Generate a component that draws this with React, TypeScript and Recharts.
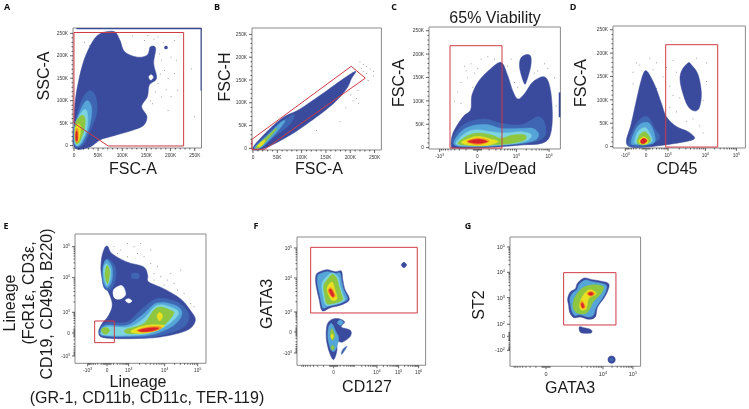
import { ReactNode } from "react"
import { ReferenceArea, Scatter, ScatterChart, XAxis, YAxis } from "recharts"

type Pt = [number, number]
type Band = [number, number, number, number]

const colors = {
  navy: "#3a4a9c",
  blue: "#3e66b3",
  sky: "#56a5d9",
  cyan: "#7dd3e0",
  green: "#8ec63f",
  yellow: "#e8e020",
  orange: "#f29220",
  red: "#d9232a",
  white: "#ffffff",
  gate: "#cf3a44",
}

// shared FSC/SSC scale, in thousands
const fscTicks = [0, 50, 100, 150, 200, 250]
const fscLabels = ["0", "50K", "100K", "150K", "200K", "250K"]
const fscMinor = [10, 20, 30, 40, 60, 70, 80, 90, 110, 120, 130, 140, 160, 170, 180, 190, 210, 220, 230, 240]
const zeroMinor = [-1.2, -.9, -.6, -.3, .3, .6, .9, 1.2]

// panel A
const aOuter: Pt[] = [[1, -4], [0, 50], [3, 102], [10, 146], [21, 191], [38, 231], [55, 250], [83, 254], [95, 235], [105, 209], [131, 197], [152, 202], [158, 220], [169, 217], [165, 183], [171, 150], [156, 135], [152, 109], [140, 87], [151, 65], [145, 46], [124, 35], [83, 22], [55, 13], [31, -4]]
const aHole: Pt[] = [[155, 153], [160, 158], [164, 152], [159, 146]]
const aBands: Band[] = [[5, 264, 259, 262], [262, 264, 122, 262]]
const aSpot: Pt[] = [[188, 216], [188, 221], [193, 221], [193, 216]]
const aBlue: Pt[] = [[1, 0], [1, 42], [14, 96], [31, 122], [45, 109], [47, 72], [33, 31], [18, 0]]
const aSky: Pt[] = [[2, 3], [2, 42], [17, 87], [29, 100], [37, 79], [31, 39], [15, 3]]
const aCyan: Pt[] = [[2, 5], [3, 46], [17, 76], [27, 76], [27, 39], [13, 5]]
const aGreen: Pt[] = [[3, 8], [3, 48], [14, 66], [22, 63], [22, 39], [11, 7]]
const aYellow: Pt[] = [[3, 13], [3, 39], [9, 48], [14, 39], [10, 11]]
const aOrange: Pt[] = [[3, 10], [3, 31], [7, 39], [9, 27], [8, 9]]
const aRed: Pt[] = [[4, 12], [4, 28], [5.5, 32], [7, 28], [7, 12]]
const aGate: Pt[] = [[0, 252], [227, 252], [227, -1], [71, -1], [0, 50]]
const aSpecks: Pt[] = [[21, 231], [31, 224], [145, 235], [173, 243], [152, 246], [207, 235], [200, 198], [211, 191], [187, 168], [194, 150], [207, 161], [214, 124], [180, 109], [162, 94], [194, 79], [249, 65], [173, 139], [180, 191], [242, 172], [165, 238], [120, 245], [185, 230], [176, 205], [168, 120], [158, 100], [190, 125], [178, 160], [200, 110], [226, 160]]

// panel B
const bOuter: Pt[] = [[0, 1], [27, 35], [62, 68], [96, 86], [151, 126], [185, 152], [211, 169], [202, 152], [192, 130], [164, 97], [110, 53], [68, 24], [21, -1]]
const bBlue: Pt[] = [[3, 2], [27, 30], [62, 62], [85, 74], [75, 52], [40, 22], [15, 0]]
const bSky: Pt[] = [[3, 2], [31, 30], [58, 58], [65, 58], [45, 31], [17, 2]]
const bGreen: Pt[] = [[6, 3], [31, 28], [45, 42], [48, 42], [34, 24], [15, 3]]
const bYellow: Pt[] = [[9, 5], [21, 17], [25, 17], [17, 5]]
const bGate: Pt[] = [[-2, 20], [202, 180], [231, 154], [24, -2], [-2, -2]]
const bSpecks: Pt[] = [[219, 190], [226, 185], [233, 180], [240, 175], [226, 170], [233, 165], [247, 170], [212, 110], [216, 100], [205, 105], [190, 90], [178, 60], [130, 40], [247, 160], [236, 150], [222, 176], [215, 128], [200, 118]]

// panel C, x in biexponential display units
const cXTicks = [-11.3, 0, 11.7, 21.5]
const cXLabels = ["-10^3", "0", "10^3", "10^4"]
const cOuter: Pt[] = [[-7.8, 2], [-7.3, 31], [-4.3, 66], [-2, 81], [-1.6, 113], [.7, 145], [4.2, 170], [7.2, 182], [9, 156], [10.7, 120], [12.2, 104], [14.2, 116], [16.7, 141], [20.2, 151], [21.9, 124], [22.5, 66], [21.7, 24], [19.2, 9], [14.2, 6], [7.2, 2], [-.8, -1], [-6.3, -1]]
const cColumn: Pt[] = [[13, 191], [14.7, 199], [16, 195], [16, 174], [14.7, 141], [14, 138], [12.7, 170]]
const cBands: Band[] = [[24.4, 24.9, 65, 118]]
const cBlue: Pt[] = [[-7.3, 6], [-6.3, 34], [-2.8, 54], [2.2, 61], [7.2, 52], [13.2, 49], [18.2, 66], [20.2, 52], [20.2, 24], [16.2, 11], [7.2, 4], [-.8, 1]]
const cSky: Pt[] = [[-6.8, 6], [-5.3, 31], [-1.8, 46], [3.2, 49], [7.2, 41], [13.2, 41], [16.7, 41], [18.4, 27], [16.2, 13], [7.2, 5], [-.8, 2]]
const cCyan: Pt[] = [[-6.3, 7], [-4.3, 27], [-.8, 38], [4.2, 34], [8.2, 31], [13.2, 34], [16.2, 27], [14.2, 13], [7.2, 6], [-.8, 4]]
const cGreen: Pt[] = [[-5.8, 8], [-3.3, 24], [.2, 31], [4.2, 27], [7.2, 20], [10.7, 27], [14.2, 27], [14.2, 16], [10.2, 9], [5.2, 6], [-.8, 4]]
const cYellow: Pt[] = [[-4.8, 11], [-2.3, 20], [.7, 24], [4.2, 18], [6.2, 13], [3.2, 5], [-1.8, 5]]
const cOrange: Pt[] = [[-3.2, 13], [.2, 20], [3.6, 14], [.2, 6]]
const cRed: Pt[] = [[-2.8, 13], [.2, 18], [3, 13], [.2, 9]]
const cGate: Pt[] = [[-8.2, 218], [7.4, 218], [7.4, -1], [-8.2, -1]]
const cSpecks: Pt[] = [[-4, 175], [-2, 180], [-1, 160], [1, 190], [-5, 140], [-6, 120], [-3, 150], [3, 195], [5, 190], [-1.5, 130], [9, 175], [10, 190], [11, 140], [12, 130], [18, 165], [21, 170], [20, 180], [17, 160], [-7, 100], [-5, 95], [-3.5, 165], [0, 170], [23, 150], [23.5, 90]]

// panel D
const dXTicks = [-6.2, 0, 6.6, 17.8, 27.1]
const dXLabels = ["-10^3", "0", "10^3", "10^4", "10^5"]
const dOuter: Pt[] = [[-5.9, 11], [-4.4, 50], [-2.4, 114], [-.9, 154], [.3, 161], [2.6, 132], [4.6, 93], [6.1, 64], [9.1, 43], [12.6, 32], [14.6, 18], [12.1, 11], [6.1, 4], [.1, -1], [-4.4, -1]]
const dIsland: Pt[] = [[12.6, 179], [10.6, 161], [10.3, 136], [12.1, 93], [14.1, 77], [15.9, 82], [16.6, 114], [15.6, 154], [13.6, 175]]
const dBlue: Pt[] = [[-5.4, 7], [-3.4, 43], [-1.4, 61], [.6, 64], [2.6, 39], [4.1, 18], [.1, 1], [-4.4, 1]]
const dSky: Pt[] = [[-4.4, 11], [-2.9, 39], [-.9, 51], [1.1, 49], [2.6, 25], [2.1, 7], [-3.4, 4]]
const dCyan: Pt[] = [[-3.4, 11], [-2.4, 32], [-.4, 41], [.9, 32], [1.9, 14], [.6, 6], [-2.7, 6]]
const dGreen: Pt[] = [[-2.7, 11], [-1.9, 25], [-.4, 32], [.9, 23], [1.3, 11], [-.4, 4], [-2.1, 5]]
const dYellow: Pt[] = [[-2.1, 13], [-.7, 21], [.6, 14], [.3, 6], [-1.6, 6]]
const dRed: Pt[] = [[-1.6, 13], [-.7, 18], [.3, 13], [-.4, 7], [-1.4, 7]]
const dGate: Pt[] = [[5.9, 218], [21.5, 218], [21.5, -1], [5.9, -1]]
const dSpecks: Pt[] = [[-3, 180], [-2, 175], [1, 190], [3, 180], [-4, 160], [2, 165], [5, 150], [6, 170], [8, 185], [9, 160], [7, 130], [8, 110], [10, 105], [9, 75], [7, 85], [12, 55], [14, 60], [16, 45], [17, 30], [15, 190], [18, 180], [18, 140], [17, 100], [3, 125], [-4, 135]]

// panel E
const eXTicks = [-5.8, 0, 6.5, 17.3, 27.2]
const eXLabels = ["-10^3", "0", "10^3", "10^4", "10^5"]
const eYTicks = [-6.9, 0, 6.2, 16.6, 25.9]
const eYLabels = ["-10^3", "0", "10^3", "10^4", "10^5"]
const eOuter: Pt[] = [[.2, 26], [1.5, 23.8], [6, 21.3], [11, 19.8], [12.2, 17.3], [12.5, 15.3], [17, 13.3], [22, 10.3], [25, 6.8], [26.5, 3.8], [24, .8], [16, -1.2], [7, -1.7], [-1, -1.4], [-2.5, .3], [-1.5, 2.8], [.5, 5.3], [1.5, 9.3], [-1.5, 16.8], [-1.7, 21.8], [-.8, 25.3]]
const eHole1: Pt[] = [[2, 13], [4.5, 14.2], [5.6, 11.6], [4, 10.2], [2.2, 10.6]]
const eHole2: Pt[] = [[6.5, 10.3], [7.5, 9.6], [6.5, 9], [5.5, 9.8]]
const eHole3: Pt[] = [[-.2, 9.6], [.3, 10], [.7, 9], [.1, 8.5]]
const eSpot: Pt[] = [[7.5, 17.8], [9.5, 17.8], [9.5, 16.4], [7.5, 16.4]]
const eUpBlue: Pt[] = [[0, 22.3], [2.5, 19.8], [2.5, 15.8], [1, 12.8], [-1, 13.8], [-1.5, 18.8]]
const eUpSky: Pt[] = [[-.2, 22], [1.5, 19.8], [1.5, 15.8], [.2, 13.6], [-1, 15.3], [-1.2, 19.3]]
const eUpCyan: Pt[] = [[-.2, 20.8], [1, 19.3], [1, 16.3], [0, 14.3], [-.8, 16.3], [-1, 19.3]]
const eUpGreen: Pt[] = [[0, 20.3], [.8, 18.3], [.2, 14.8], [-.6, 17.3]]
const eBlue: Pt[] = [[-2.2, .8], [-.2, 3], [6, 3.3], [10, 6.8], [15, 10.3], [21, 9.3], [24.5, 5.8], [23, 1.8], [15, -1], [7, -1.4], [-1, -1]]
const eSky: Pt[] = [[-2, .6], [-.2, 2.3], [6, 2.3], [10.5, 5.3], [15, 9], [20.5, 8.3], [22.5, 5.8], [20, 2.3], [14, -.4], [7, -1], [-1, -.8]]
const eCyan: Pt[] = [[-1.5, .6], [-.2, 1.8], [6.5, 1.8], [11, 4.3], [15, 8.3], [19.5, 7.6], [21.5, 5.8], [18, 2.3], [13, 0], [7, -.7], [-1, -.6]]
const eGreenLeft: Pt[] = [[-1.5, 1.3], [0, 1.6], [.8, .6], [-.5, -.4], [-1.5, .3]]
const eGreen: Pt[] = [[5.5, 1], [11, 2.8], [14, 6.8], [16, 7.8], [19, 6.8], [20, 5.8], [17, 2.3], [12, .3], [6.5, -.2]]
const eYellow: Pt[] = [[7.5, .8], [12, 2.3], [17, 2.3], [16, 1.3], [12, 0], [8, 0]]
const eYellowUp: Pt[] = [[15, 5], [15.8, 6.2], [16.7, 5], [15.8, 3.6]]
const eOrange: Pt[] = [[9, .8], [12.5, 1.8], [16.2, 1.8], [15, .8], [11, .2]]
const eRed: Pt[] = [[9.5, .8], [12.5, 1.5], [15.5, 1.5], [13.5, .6], [10.5, .4]]
const eGate: Pt[] = [[-3.7, 3.6], [2.2, 3.6], [2.2, -2.9], [-3.7, -2.9]]
const eSpecks: Pt[] = [[2, 26], [4, 25], [6, 27], [8, 26], [10, 27], [3, 24], [6, 23], [9, 24], [11, 23], [13, 25], [13, 21], [15, 20], [14, 18], [16, 17], [18, 16], [20, 15], [17, 14.5], [21, 13], [23, 12], [25, 9], [14, 16], [19, 18], [22, 19], [24, 7.5], [26, 8]]

// panel F
const fXTicks = [0, 13, 19.5, 25.5]
const fXLabels = ["0", "10^4", "10^5", "10^6"]
const fYTicks = [-6.3, 0, 6, 16.2, 25.2]
const fYLabels = ["-10^3", "0", "10^3", "10^4", "10^5"]
const fOuter: Pt[] = [[-5.3, 17], [-4.5, 17.9], [-2, 18.7], [.5, 18.1], [2.3, 18.3], [2.7, 16], [3.3, 13], [4.5, 10.7], [4.5, 9.3], [2, 8], [-1, 7.3], [-3, 6.3], [-3.8, 7], [-4.3, 9.5], [-5, 12.5], [-5.4, 15]]
const fSky: Pt[] = [[-4.8, 16.8], [-4.2, 17.4], [-2, 18.1], [.5, 17.6], [1.9, 17.7], [2.3, 15.8], [2.9, 13], [4, 10.6], [4, 9.6], [1.8, 8.5], [-1, 7.9], [-3, 7.1], [-3.5, 7.8], [-3.9, 9.8], [-4.5, 12.5], [-4.9, 15]]
const fCyan: Pt[] = [[-3.5, 14.5], [-2, 16.7], [-.3, 17.7], [1.4, 16.4], [1.9, 14], [2.7, 11.5], [3.2, 9.5], [.5, 8.3], [-2.3, 8.1], [-3.2, 11]]
const fGreen: Pt[] = [[-3, 14], [-1.7, 16], [-.3, 17.3], [1, 16], [1.5, 14], [2.3, 11.5], [2.7, 9.7], [.5, 8.7], [-2, 8.5], [-2.7, 11]]
const fYellow: Pt[] = [[-2, 13], [-.5, 15], [.3, 13], [1, 10], [-.7, 9.7]]
const fOrange: Pt[] = [[-1.7, 12.3], [-.7, 13.3], [.5, 11], [-.3, 10.3]]
const fRed: Pt[] = [[-1.3, 12.5], [-.7, 12.7], [.1, 11], [-.5, 10.7]]
const fDot: Pt[] = [[21.1, 20.9], [21.6, 20.6], [21.9, 20.1], [21.6, 19.6], [21.1, 19.3], [20.6, 19.6], [20.3, 20.1], [20.6, 20.6]]
const fLowOuter: Pt[] = [[-2, 2], [-.7, 3.7], [1.5, 4], [3.3, 3], [2.3, 1.5], [5, .5], [5, -1.3], [2.7, -3], [1, -3], [1, -5.5], [0, -8.3], [-1.3, -6], [-2.2, -2]]
const fLowSky: Pt[] = [[-1.5, 1.5], [-.5, 2.5], [.7, 0], [1.5, -2], [.5, -5.5], [-.7, -5.5], [-1.7, -2]]
const fLowCyan: Pt[] = [[2, 3.6], [2.6, 3.3], [2.9, 2.8], [2.6, 2.3], [2, 2], [1.4, 2.3], [1.1, 2.8], [1.4, 3.3]]
const fLowGreen: Pt[] = [[-1, -.5], [-.5, 1], [.3, -1], [-.3, -2.5]]
const fLowYellow: Pt[] = [[-.9, -1.3], [-.5, -.5], [-.1, -1.3], [-.5, -2.1]]
const fLowGreen2: Pt[] = [[-.8, -4.7], [-.3, -4], [.2, -4.7], [-.3, -5.4]]
const fTail: Pt[] = [[4, -4.3], [3, -6], [2.3, -6.7], [2.7, -5.3]]
const fGate: Pt[] = [[-6.9, 25.4], [25.1, 25.4], [25.1, 5.7], [-6.9, 5.7]]

// panel G
const gXTicks = [0, 17.1, 26.1]
const gXLabels = ["0", "10^4", "10^5"]
const gYTicks = [-4.2, 0, 3.6, 11.6, 19.2, 26.8]
const gYLabels = ["-10^2", "0", "10^2", "10^3", "10^4", "10^5"]
const gOuter: Pt[] = [[6.5, 11.3], [7.3, 13.3], [8.8, 14.3], [9.5, 16], [11.5, 17.5], [13.8, 17], [16.3, 16.6], [18.8, 15.8], [18.6, 13.8], [17.5, 11.6], [15.5, 8.8], [14.8, 5.8], [12.8, 5.1], [10.3, 5.8], [8.3, 5.6], [7.1, 7.3], [6.8, 9.3]]
const gSky: Pt[] = [[7.2, 11.3], [8, 13], [9.3, 14], [10, 15.6], [11.8, 16.9], [13.8, 16.4], [16.2, 16], [18.1, 15.3], [18, 13.6], [16.9, 11.4], [15, 8.6], [14.2, 6.3], [12.7, 5.8], [10.3, 6.5], [8.6, 6.3], [7.7, 7.8], [7.4, 9.4]]
const gGreen: Pt[] = [[8.3, 10.8], [9.5, 13], [11, 14.5], [13, 15.3], [15.5, 15.4], [17.3, 14.8], [16.5, 12.8], [14.2, 10.4], [13, 8], [11.8, 6.8], [9.5, 6.9], [8.2, 8.4]]
const gYellow: Pt[] = [[10.1, 9.8], [11.5, 12.8], [13.3, 14], [15.1, 12.8], [12.8, 11.3], [12.1, 8.3], [10.5, 8]]
const gOrangeTop: Pt[] = [[12.3, 12.8], [13.5, 13.5], [14.6, 12.8], [13.5, 12]]
const gRedTop: Pt[] = [[12.7, 12.8], [13.5, 13.2], [14.2, 12.8], [13.5, 12.3]]
const gOrangeLow: Pt[] = [[10.3, 9.8], [10.9, 10.6], [11.8, 8.8], [10.9, 8.3]]
const gRedLow: Pt[] = [[10.6, 9.6], [11, 10], [11.4, 8.9], [10.9, 8.6]]
const gBelow: Pt[] = [[10, 2.8], [11.3, 2.6], [13.5, 2], [13.5, 1], [10.5, 1.1]]
const gDot: Pt[] = [[19.7, -5.9], [20.5, -6.2], [20.8, -7], [20.5, -7.8], [19.7, -8.1], [18.9, -7.8], [18.6, -7], [18.9, -6.2]]
const gDotInner: Pt[] = [[19.7, -6.4], [20.3, -7], [19.7, -7.6], [19.1, -7]]
const gGate: Pt[] = [[5.3, 19.1], [21, 19.1], [21, 3.4], [5.3, 3.4]]

const toXY = (pts: Pt[]) => pts.map(([x, y]) => ({ x, y }))

// log spaced minor ticks between two decade marks
const logMinor = (a: number, b: number) => [2, 3, 4, 5, 6, 7, 8, 9].map((n) => a + (b - a) * Math.log10(n))

// closed catmull-rom path through the scaled points, so blob outlines keep their corners
function closedPath(points: { x: number; y: number }[]) {
  const n = points.length
  let d = `M${points[0].x},${points[0].y}`
  for (let i = 0; i < n; i++) {
    const p0 = points[(i - 1 + n) % n]
    const p1 = points[i]
    const p2 = points[(i + 1) % n]
    const p3 = points[(i + 2) % n]
    const c1x = p1.x + (p2.x - p0.x) / 6
    const c1y = p1.y + (p2.y - p0.y) / 6
    const c2x = p2.x - (p3.x - p1.x) / 6
    const c2y = p2.y - (p3.y - p1.y) / 6
    d += `C${c1x},${c1y} ${c2x},${c2y} ${p2.x},${p2.y}`
  }
  return d + "Z"
}

function tickLabel(text: string) {
  const parts = text.split("^")
  if (parts.length === 1) return text
  return (
    <>
      {parts[0]}
      <tspan dy={-2} fontSize="0.7em">{parts[1]}</tspan>
    </>
  )
}

function makeTick(vertical: boolean, majors: number[], labels: string[], size: number) {
  return (props: any) => {
    const { x, y, payload } = props
    const i = majors.indexOf(payload.value)
    const len = i >= 0 ? 3 : 1.5
    if (vertical) {
      return (
        <g>
          <line x1={x - len} x2={x} y1={y} y2={y} stroke="#222" strokeWidth={0.7} />
          {i >= 0 && (
            <text x={x - 5} y={y + size * 0.35} textAnchor="end" fontSize={size} fill="#333" fontFamily="'Liberation Sans', sans-serif">
              {tickLabel(labels[i])}
            </text>
          )}
        </g>
      )
    }
    return (
      <g>
        <line x1={x} x2={x} y1={y} y2={y + len} stroke="#222" strokeWidth={0.7} />
        {i >= 0 && (
          <text x={x} y={y + 4 + size} textAnchor="middle" fontSize={size} fill="#333" fontFamily="'Liberation Sans', sans-serif">
            {tickLabel(labels[i])}
          </text>
        )}
      </g>
    )
  }
}

type PanelProps = {
  left: number
  top: number
  width: number
  height: number
  xDomain: [number, number]
  yDomain: [number, number]
  xTicks: number[]
  xLabels: string[]
  xMinor: number[]
  yTicks: number[]
  yLabels: string[]
  yMinor: number[]
  layers: [Pt[], string][]
  gates: Pt[][]
  bands?: Band[]
  specks?: Pt[]
  fontSize?: number
}

function Panel(p: PanelProps) {
  const size = p.fontSize ?? 4.8
  return (
    <div style={{ position: "absolute", left: p.left - 32, top: p.top - 4 }}>
      <ScatterChart width={p.width + 36} height={p.height + 28} margin={{ top: 4, right: 4, bottom: 0, left: 0 }}>
        <XAxis
          type="number"
          dataKey="x"
          domain={p.xDomain}
          ticks={[...p.xTicks, ...p.xMinor]}
          interval={0}
          height={24}
          tickSize={0}
          tickMargin={0}
          tickLine={false}
          axisLine={false}
          tick={makeTick(false, p.xTicks, p.xLabels, size)}
        />
        <YAxis
          type="number"
          dataKey="y"
          domain={p.yDomain}
          ticks={[...p.yTicks, ...p.yMinor]}
          interval={0}
          width={32}
          tickSize={0}
          tickMargin={0}
          tickLine={false}
          axisLine={false}
          tick={makeTick(true, p.yTicks, p.yLabels, size)}
        />
        <ReferenceArea x1={p.xDomain[0]} x2={p.xDomain[1]} y1={p.yDomain[0]} y2={p.yDomain[1]} fill="none" fillOpacity={0} stroke="#8a8a8a" strokeWidth={1} />
        {p.bands?.map(([x1, x2, y1, y2], i) => (
          <ReferenceArea key={"b" + i} x1={x1} x2={x2} y1={y1} y2={y2} fill={colors.navy} fillOpacity={1} stroke="none" />
        ))}
        {p.specks && (
          <Scatter
            data={toXY(p.specks)}
            isAnimationActive={false}
            shape={(s: any) => <rect x={s.cx} y={s.cy} width={0.8} height={0.8} fill="#70707a" />}
          />
        )}
        {p.layers.map(([pts, color], i) => (
          <Scatter
            key={i}
            data={toXY(pts)}
            isAnimationActive={false}
            fill={color}
            line={(l: any) => (
              <path
                d={closedPath(l.points)}
                fill={color}
                stroke={color}
                strokeWidth={0.5}
                style={color === colors.navy || color === colors.white ? undefined : { filter: "blur(0.7px)" }}
              />
            )}
            shape={() => <g />}
          />
        ))}
        {p.gates.map((pts, i) => (
          <Scatter
            key={"g" + i}
            data={toXY(pts)}
            isAnimationActive={false}
            fill="none"
            line={{ fill: "none", stroke: colors.gate, strokeWidth: 1 }}
            lineJointType="linearClosed"
            shape={() => <g />}
          />
        ))}
      </ScatterChart>
    </div>
  )
}

function Label({ x, y, rotate, children }: { x: number; y: number; rotate?: boolean; children: ReactNode }) {
  return (
    <div
      style={{
        position: "absolute",
        left: x,
        top: y,
        transform: `translate(-50%, -50%)${rotate ? " rotate(-90deg)" : ""}`,
        fontFamily: "'Liberation Sans', sans-serif",
        fontSize: 16,
        lineHeight: 1,
        whiteSpace: "nowrap",
        color: "#1a1a1a",
      }}
    >
      {children}
    </div>
  )
}

function Letter({ x, y, children }: { x: number; y: number; children: ReactNode }) {
  return (
    <div style={{ position: "absolute", left: x, top: y, transform: "translate(-50%, -50%)", fontFamily: "'Open Sans', sans-serif", fontWeight: 700, fontSize: 9, lineHeight: 1, color: "#111" }}>
      {children}
    </div>
  )
}

export default function App() {
  const { navy, blue, sky, cyan, green, yellow, orange, red, white } = colors
  return (
    <div style={{ position: "absolute", left: 0, top: 0, width: 749, height: 409, background: "#fff", overflow: "hidden", filter: "blur(0.35px)" }}>
      <Panel
        left={72.5} top={28} width={128.5} height={120}
        xDomain={[-2, 264]} yDomain={[-5.5, 262]}
        xTicks={fscTicks} xLabels={fscLabels} xMinor={fscMinor}
        yTicks={fscTicks} yLabels={fscLabels} yMinor={fscMinor}
        specks={aSpecks}
        bands={aBands}
        layers={[[aSpot, navy], [aOuter, navy], [aHole, white], [aBlue, blue], [aSky, sky], [aCyan, cyan], [aGreen, green], [aYellow, yellow], [aOrange, orange], [aRed, red]]}
        gates={[aGate]}
      />
      <Panel
        left={252.3} top={28} width={129.4} height={122}
        xDomain={[-2, 264]} yDomain={[-3.5, 264]}
        xTicks={fscTicks} xLabels={fscLabels} xMinor={fscMinor}
        yTicks={fscTicks} yLabels={fscLabels} yMinor={fscMinor}
        specks={bSpecks}
        layers={[[bOuter, navy], [bBlue, blue], [bSky, sky], [bGreen, green], [bYellow, yellow]]}
        gates={[bGate]}
      />
      <Panel
        left={429.3} top={27} width={131.4} height={122}
        xDomain={[-14.5, 24.9]} yDomain={[-3, 258]}
        xTicks={cXTicks} xLabels={cXLabels} xMinor={[...zeroMinor, ...logMinor(0, -11.3), ...logMinor(0, 11.7), ...logMinor(11.7, 21.5)]}
        yTicks={fscTicks} yLabels={fscLabels} yMinor={fscMinor}
        specks={cSpecks}
        bands={cBands}
        layers={[[cColumn, navy], [cOuter, navy], [cBlue, blue], [cSky, sky], [cCyan, cyan], [cGreen, green], [cYellow, yellow], [cOrange, orange], [cRed, red]]}
        gates={[cGate]}
      />
      <Panel
        left={613.3} top={26} width={132.4} height={122}
        xDomain={[-9.9, 29.8]} yDomain={[-3, 258]}
        xTicks={dXTicks} xLabels={dXLabels} xMinor={[...zeroMinor, ...logMinor(0, -6.2), ...logMinor(0, 6.6), ...logMinor(6.6, 17.8), ...logMinor(17.8, 27.1)]}
        yTicks={fscTicks} yLabels={fscLabels} yMinor={fscMinor}
        specks={dSpecks}
        layers={[[dOuter, navy], [dIsland, navy], [dBlue, blue], [dSky, sky], [dCyan, cyan], [dGreen, green], [dYellow, yellow], [dRed, red]]}
        gates={[dGate]}
      />
      <Panel
        left={74.7} top={233.7} width={131} height={129.3}
        xDomain={[-9.6, 29.7]} yDomain={[-9.1, 29.7]}
        xTicks={eXTicks} xLabels={eXLabels} xMinor={[...zeroMinor, ...logMinor(0, -5.8), ...logMinor(0, 6.5), ...logMinor(6.5, 17.3), ...logMinor(17.3, 27.2)]}
        yTicks={eYTicks} yLabels={eYLabels} yMinor={[...zeroMinor, ...logMinor(0, -6.9), ...logMinor(0, 6.2), ...logMinor(6.2, 16.6), ...logMinor(16.6, 25.9)]}
        specks={eSpecks}
        layers={[[eOuter, navy], [eHole1, white], [eHole2, white], [eHole3, white], [eSpot, blue], [eUpBlue, blue], [eUpSky, sky], [eUpCyan, cyan], [eUpGreen, green], [eBlue, blue], [eSky, sky], [eCyan, cyan], [eGreenLeft, green], [eGreen, green], [eYellow, yellow], [eYellowUp, yellow], [eOrange, orange], [eRed, red]]}
        gates={[eGate]}
      />
      <Panel
        left={296.7} top={236.7} width={128.6} height={128.3}
        xDomain={[-11, 27.6]} yDomain={[-10, 28.5]}
        xTicks={fXTicks} xLabels={fXLabels} xMinor={[...zeroMinor, ...logMinor(0, -10), ...logMinor(0, 6.5), ...logMinor(6.5, 13), ...logMinor(13, 19.5), ...logMinor(19.5, 25.5)]}
        yTicks={fYTicks} yLabels={fYLabels} yMinor={[...zeroMinor, ...logMinor(0, -6.3), ...logMinor(0, 6), ...logMinor(6, 16.2), ...logMinor(16.2, 25.2)]}
        layers={[[fOuter, navy], [fSky, sky], [fCyan, cyan], [fGreen, green], [fYellow, yellow], [fOrange, orange], [fRed, red], [fDot, navy], [fLowOuter, navy], [fLowSky, sky], [fLowCyan, sky], [fLowGreen, green], [fLowGreen2, green], [fLowYellow, yellow], [fTail, blue]]}
        gates={[fGate]}
      />
      <Panel
        left={509.7} top={236.7} width={130.6} height={129.3}
        xDomain={[-10.8, 28.4]} yDomain={[-9, 29.8]}
        xTicks={gXTicks} xLabels={gXLabels} xMinor={[...zeroMinor, ...logMinor(0, -10), ...logMinor(8, 17.1), ...logMinor(17.1, 26.1)]}
        yTicks={gYTicks} yLabels={gYLabels} yMinor={[...zeroMinor, ...logMinor(0, -4.2), ...logMinor(3.6, 11.6), ...logMinor(11.6, 19.2), ...logMinor(19.2, 26.8)]}
        fontSize={5.5}
        layers={[[gOuter, navy], [gSky, sky], [gGreen, green], [gYellow, yellow], [gOrangeTop, orange], [gRedTop, red], [gOrangeLow, orange], [gRedLow, red], [gBelow, navy], [gDot, navy], [gDotInner, blue]]}
        gates={[gGate]}
      />

      <Letter x={7} y={6}>A</Letter>
      <Letter x={217} y={6}>B</Letter>
      <Letter x={394} y={6}>C</Letter>
      <Letter x={573} y={6}>D</Letter>
      <Letter x={6} y={225}>E</Letter>
      <Letter x={256} y={225}>F</Letter>
      <Letter x={468} y={225}>G</Letter>

      <Label x={133} y={169}>FSC-A</Label>
      <Label x={44} y={76} rotate>SSC-A</Label>
      <Label x={319} y={169}>FSC-A</Label>
      <Label x={225} y={77} rotate>FSC-H</Label>
      <Label x={495} y={18}>65% Viability</Label>
      <Label x={500} y={169}>Live/Dead</Label>
      <Label x={399} y={83} rotate>FSC-A</Label>
      <Label x={677} y={169}>CD45</Label>
      <Label x={581} y={83} rotate>FSC-A</Label>
      <Label x={10} y={303} rotate>Lineage</Label>
      <Label x={29} y={293} rotate>(FcR1ε, CD3ε,</Label>
      <Label x={47} y={304} rotate>CD19, CD49b, B220)</Label>
      <Label x={138} y={382}>Lineage</Label>
      <Label x={147} y={398}>(GR-1, CD11b, CD11c, TER-119)</Label>
      <Label x={267} y={304} rotate>GATA3</Label>
      <Label x={367} y={387}>CD127</Label>
      <Label x={479} y={305} rotate>ST2</Label>
      <Label x={570} y={388}>GATA3</Label>
    </div>
  )
}
